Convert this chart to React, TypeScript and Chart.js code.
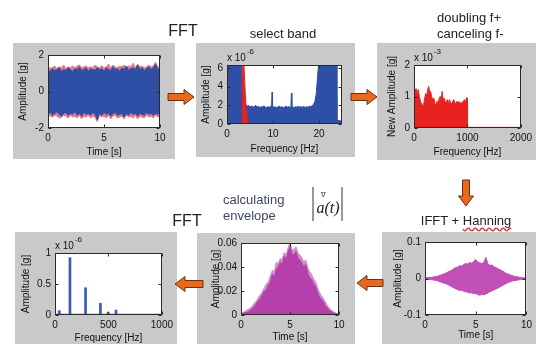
import React, { useEffect, useRef } from 'react';
import { Chart, registerables } from 'chart.js';

Chart.register(...registerables);

const FONT = '"Liberation Sans", Arial, sans-serif';
const PANEL_GRAY = '#c9c9c9';
const BLUE = '#2f4ea5';
const RED = '#e8231f';
const MAGENTA = '#b53fab';

// ---------------- data ----------------
const TIME = [0, 0.2, 0.4, 0.6, 0.8, 1, 1.2, 1.4, 1.6, 1.8, 2, 2.2, 2.4, 2.6, 2.8, 3, 3.2, 3.4, 3.6, 3.8, 4, 4.2, 4.4, 4.6, 4.8, 5, 5.2, 5.4, 5.6, 5.8, 6, 6.2, 6.4, 6.6, 6.8, 7, 7.2, 7.4, 7.6, 7.8, 8, 8.2, 8.4, 8.6, 8.8, 9, 9.2, 9.4, 9.6, 9.8, 10];

// Panel 1: raw signal envelope (g)
const SIG_UP = [1.15, 1.1, 1.25, 1.15, 1.2, 1.3, 1.1, 1.2, 1.15, 1.3, 1.2, 1.1, 1.25, 1.2, 1.35, 1.15, 1.2, 1.3, 1.1, 1.25, 1.2, 1.15, 1.3, 1.2, 1.25, 1.1, 1.3, 1.2, 1.15, 1.35, 1.2, 1.25, 1.1, 1.3, 1.2, 1.4, 1.15, 1.25, 1.3, 1.2, 1.45, 1.2, 1.3, 1.15, 1.25, 1.35, 1.2, 1.3, 1.5, 1.25, 1.2];
const SIG_LO = [-1.2, -1.15, -1.3, -1.2, -1.1, -1.25, -1.35, -1.2, -1.15, -1.3, -1.2, -1.25, -1.1, -1.3, -1.2, -1.35, -1.15, -1.25, -1.2, -1.3, -1.15, -1.25, -1.55, -1.2, -1.3, -1.15, -1.25, -1.2, -1.35, -1.2, -1.15, -1.3, -1.25, -1.2, -1.4, -1.2, -1.3, -1.15, -1.25, -1.2, -1.35, -1.2, -1.25, -1.3, -1.15, -1.25, -1.2, -1.3, -1.2, -1.25, -1.15];
const SIG_UP_RED = [1.25, 1.3, 1.3, 1.4, 1.25, 1.35, 1.3, 1.45, 1.25, 1.35, 1.3, 1.4, 1.3, 1.4, 1.45, 1.3, 1.35, 1.4, 1.3, 1.35, 1.3, 1.45, 1.35, 1.3, 1.4, 1.3, 1.35, 1.5, 1.3, 1.45, 1.35, 1.3, 1.4, 1.35, 1.45, 1.3, 1.4, 1.35, 1.55, 1.3, 1.5, 1.35, 1.4, 1.3, 1.35, 1.45, 1.35, 1.4, 1.6, 1.35, 1.3];
const SIG_LO_RED = [-1.3, -1.35, -1.4, -1.3, -1.35, -1.45, -1.4, -1.3, -1.35, -1.45, -1.3, -1.4, -1.35, -1.45, -1.3, -1.5, -1.35, -1.4, -1.3, -1.45, -1.35, -1.4, -1.65, -1.3, -1.4, -1.35, -1.45, -1.3, -1.5, -1.35, -1.3, -1.45, -1.4, -1.35, -1.5, -1.3, -1.4, -1.35, -1.45, -1.3, -1.5, -1.35, -1.4, -1.45, -1.3, -1.4, -1.35, -1.45, -1.3, -1.4, -1.3];

// Panel 2: spectrum [Hz, amplitude x1e-6]
const BAND_BLUE: [number, number][] = [
  [0, 6.5], [3.2, 6.5], [3.35, 3.5], [3.5, 2.2], [3.8, 2.0], [4.1, 2.1], [4.4, 1.9], [4.7, 2.0], [5.0, 1.8], [5.3, 1.95],
  [5.6, 1.8], [5.9, 1.85], [6.2, 2.0], [6.5, 1.8], [6.8, 1.9], [7.1, 1.75], [7.4, 1.85], [7.7, 1.8], [8.0, 1.95], [8.3, 1.8],
  [8.6, 1.75], [8.9, 1.85], [9.2, 1.8], [9.5, 1.9], [9.7, 1.85], [9.8, 3.4], [9.9, 1.9], [10.1, 1.8], [10.4, 1.85], [10.7, 1.75],
  [11.0, 1.8], [11.3, 1.9], [11.6, 1.8], [11.9, 1.85], [12.2, 1.75], [12.5, 1.8], [12.8, 1.9], [13.1, 1.8], [13.4, 1.85], [13.7, 1.8],
  [13.9, 1.9], [14.0, 3.3], [14.1, 1.85], [14.3, 1.8], [14.6, 1.75], [14.9, 1.85], [15.2, 1.8], [15.5, 1.9], [15.8, 1.8], [16.1, 1.85],
  [16.4, 1.8], [16.7, 1.9], [17.0, 1.75], [17.3, 1.85], [17.6, 1.8], [17.9, 1.9], [18.2, 1.85], [18.5, 1.95], [18.8, 2.1], [19.1, 2.4],
  [19.4, 3.2], [19.6, 4.5], [19.8, 5.8], [20.0, 6.5], [23.8, 6.5], [23.9, 0.4], [25, 0.3],
];
const BAND_RED: [number, number][] = [
  [3.3, 0], [3.3, 6.5], [3.65, 6.5], [3.85, 4.5], [4.0, 3.0], [4.2, 1.5], [4.4, 0.4], [4.55, 0],
];

// Panel 3: doubled positive band [Hz, amplitude x1e-3]
const NEW_AMP: [number, number][] = [
  [0, 1.05], [20, 1.2], [40, 1.25], [60, 1.1], [80, 1.22], [100, 1.0], [120, 0.85], [140, 0.78], [160, 0.7], [180, 0.75],
  [200, 0.95], [220, 1.1], [240, 1.0], [260, 1.25], [276, 1.32], [290, 1.15], [310, 1.16], [330, 1.0], [350, 0.9], [370, 0.95],
  [390, 0.78], [410, 0.73], [430, 0.85], [450, 0.8], [470, 0.92], [490, 1.0], [510, 0.9], [527, 1.16], [545, 0.88], [565, 0.95],
  [585, 0.8], [605, 0.84], [625, 0.9], [645, 0.78], [665, 0.9], [685, 0.8], [705, 0.76], [725, 0.85], [745, 0.9], [765, 0.8],
  [785, 0.76], [805, 0.85], [825, 0.8], [845, 0.84], [865, 0.76], [885, 0.82], [905, 0.78], [925, 0.86], [945, 0.9], [965, 0.82],
  [985, 0.97], [1000, 0.95], [1002, 0.02], [2000, 0.02],
];

// Panel 4: FFT of envelope [Hz], amplitude x1e-6
const PEAK_FREQ = [40, 140, 286, 425, 497, 571];
const PEAK_AMP = [0.07, 0.925, 0.44, 0.19, 0.04, 0.08];
const BASE_LEVEL = 0.01;

// Panel 5: envelope (g)
const ENV = [0.001, 0.001, 0.002, 0.002, 0.003, 0.004, 0.006, 0.007, 0.01, 0.012, 0.014, 0.017, 0.02, 0.021, 0.025, 0.027, 0.034, 0.031, 0.038, 0.04, 0.044, 0.041, 0.049, 0.046, 0.052, 0.057, 0.051, 0.05, 0.053, 0.047, 0.046, 0.043, 0.04, 0.042, 0.035, 0.031, 0.03, 0.026, 0.024, 0.019, 0.015, 0.013, 0.011, 0.008, 0.006, 0.004, 0.003, 0.002, 0.001, 0.001, 0];
const ENV_LIGHT = [0.002, 0.002, 0.003, 0.004, 0.005, 0.006, 0.008, 0.01, 0.012, 0.015, 0.017, 0.02, 0.023, 0.026, 0.028, 0.033, 0.037, 0.036, 0.044, 0.043, 0.047, 0.046, 0.052, 0.05, 0.056, 0.06, 0.055, 0.054, 0.057, 0.052, 0.05, 0.048, 0.044, 0.046, 0.04, 0.036, 0.034, 0.03, 0.028, 0.023, 0.019, 0.016, 0.014, 0.011, 0.008, 0.006, 0.004, 0.003, 0.002, 0.001, 0.001];

// Panel 6: IFFT + Hanning (g)
const IFFT_UP = [0.002, 0.002, 0.003, 0.003, 0.004, 0.005, 0.006, 0.008, 0.01, 0.012, 0.014, 0.017, 0.02, 0.022, 0.026, 0.03, 0.031, 0.035, 0.034, 0.038, 0.041, 0.04, 0.044, 0.042, 0.047, 0.052, 0.045, 0.043, 0.041, 0.044, 0.058, 0.04, 0.036, 0.037, 0.032, 0.03, 0.027, 0.024, 0.021, 0.018, 0.014, 0.012, 0.01, 0.008, 0.006, 0.005, 0.004, 0.003, 0.002, 0.002, 0.001];
const IFFT_LO = [-0.002, -0.002, -0.003, -0.003, -0.004, -0.005, -0.006, -0.008, -0.01, -0.012, -0.014, -0.016, -0.019, -0.022, -0.025, -0.028, -0.03, -0.033, -0.032, -0.035, -0.036, -0.038, -0.04, -0.039, -0.042, -0.041, -0.044, -0.046, -0.043, -0.045, -0.042, -0.04, -0.036, -0.034, -0.031, -0.029, -0.026, -0.023, -0.02, -0.017, -0.014, -0.011, -0.009, -0.007, -0.006, -0.005, -0.004, -0.003, -0.002, -0.002, -0.001];

// tick values
const T_TICKS = [0, 5, 10];
const P1_Y = [-2, 0, 2];
const P2_X = [0, 10, 20];
const P2_Y = [0, 2, 4, 6];
const P3_X = [0, 1000, 2000];
const P3_Y = [0, 1, 2];
const P4_X = [0, 500, 1000];
const P4_Y = [0, 0.5, 1];
const P5_Y = [0, 0.02, 0.04, 0.06];
const P6_Y = [-0.1, 0, 0.1];

// ---------------- helpers ----------------
type Box = { l: number; t: number; r: number; b: number };

const xy = (xs: number[], ys: number[]) => xs.map((x, i) => ({ x, y: ys[i] }));
const pairs = (p: [number, number][]) => p.map(([x, y]) => ({ x, y }));

const decoPlugin = {
  id: 'deco',
  beforeDraw(chart: any) {
    const { ctx, width, height, chartArea: a } = chart;
    ctx.save();
    ctx.fillStyle = PANEL_GRAY;
    ctx.fillRect(0, 0, width, height);
    ctx.fillStyle = '#ffffff';
    ctx.fillRect(a.left, a.top, a.right - a.left, a.bottom - a.top);
    ctx.restore();
  },
  afterDraw(chart: any, _args: any, opts: any) {
    const { ctx, chartArea: a, scales } = chart;
    ctx.save();
    ctx.strokeStyle = '#2a2a2a';
    ctx.lineWidth = 1;
    const L = Math.round(a.left) + 0.5;
    const T = Math.round(a.top) + 0.5;
    const R = Math.round(a.right) - 0.5;
    const B = Math.round(a.bottom) - 0.5;
    ctx.strokeRect(L, T, R - L, B - T);
    ctx.beginPath();
    for (const t of scales.x.ticks) {
      const px = Math.round(scales.x.getPixelForValue(t.value)) + 0.5;
      ctx.moveTo(px, B); ctx.lineTo(px, B - 3);
      ctx.moveTo(px, T); ctx.lineTo(px, T + 3);
    }
    for (const t of scales.y.ticks) {
      const py = Math.round(scales.y.getPixelForValue(t.value)) + 0.5;
      ctx.moveTo(L, py); ctx.lineTo(L + 3, py);
      ctx.moveTo(R, py); ctx.lineTo(R - 3, py);
    }
    ctx.stroke();
    if (opts && opts.expo) {
      ctx.fillStyle = '#111';
      ctx.textBaseline = 'alphabetic';
      ctx.textAlign = 'left';
      ctx.font = `10px ${FONT}`;
      ctx.fillText('x 10', a.left, a.top - 4);
      const w = ctx.measureText('x 10').width;
      ctx.font = `8px ${FONT}`;
      ctx.fillText(opts.expo, a.left + w + 1, a.top - 11);
    }
    ctx.restore();
  },
};

function axis(opts: {
  min: number; max: number; ticks: number[]; title: string; titlePad: number; size: number; isX: boolean;
}) {
  return {
    type: 'linear',
    min: opts.min,
    max: opts.max,
    offset: false,
    afterBuildTicks: (s: any) => {
      s.ticks = opts.ticks.map((v) => ({ value: v }));
    },
    afterFit: (s: any) => {
      if (opts.isX) s.height = opts.size;
      else s.width = opts.size;
    },
    grid: { display: false, drawTicks: false },
    border: { display: false },
    ticks: {
      padding: 4,
      color: '#111',
      autoSkip: false,
      maxRotation: 0,
      font: { family: FONT, size: 10 },
      callback: (v: any) => String(v),
    },
    title: {
      display: true,
      text: opts.title,
      color: '#111',
      font: { family: FONT, size: 10 },
      padding: { top: opts.titlePad, bottom: opts.titlePad },
    },
  };
}

type Spec = {
  box: Box;
  plot: Box;
  type?: string;
  datasets: any[];
  x: { min: number; max: number; ticks: number[]; title: string; titlePad: number };
  y: { min: number; max: number; ticks: number[]; title: string; titlePad: number };
  expo?: string;
};

function ChartPanel({ spec }: { spec: Spec }) {
  const ref = useRef<HTMLCanvasElement>(null);
  const { box, plot } = spec;
  const w = box.r - box.l;
  const h = box.b - box.t;
  useEffect(() => {
    const chart = new Chart(ref.current as HTMLCanvasElement, {
      type: (spec.type || 'line') as any,
      data: { datasets: spec.datasets },
      plugins: [decoPlugin as any],
      options: {
        responsive: false,
        animation: false,
        devicePixelRatio: 1,
        parsing: true,
        layout: { padding: { left: 0, top: plot.t - box.t, right: box.r - plot.r, bottom: 0 } },
        elements: { point: { radius: 0 }, line: { tension: 0 } },
        plugins: {
          legend: { display: false },
          tooltip: { enabled: false },
          deco: { expo: spec.expo },
        } as any,
        scales: {
          x: axis({ ...spec.x, size: box.b - plot.b, isX: true }) as any,
          y: axis({ ...spec.y, size: plot.l - box.l, isX: false }) as any,
        },
      },
    });
    return () => chart.destroy();
  }, []);
  return (
    <canvas
      ref={ref}
      width={w}
      height={h}
      style={{ position: 'absolute', left: box.l, top: box.t, width: w, height: h }}
    />
  );
}

const band = (up: any[], color: string, fill: any) => ({
  data: up,
  borderColor: color,
  backgroundColor: color,
  borderWidth: 1,
  fill,
  pointRadius: 0,
});

const SPECS: Spec[] = [
  {
    box: { l: 13, t: 43, r: 175, b: 159 },
    plot: { l: 48, t: 55, r: 160, b: 128 },
    datasets: [
      band(xy(TIME, SIG_UP), BLUE, '+1'),
      band(xy(TIME, SIG_LO), BLUE, false),
      band(xy(TIME, SIG_UP_RED), '#e07a8c', '+1'),
      band(xy(TIME, SIG_LO_RED), '#e07a8c', false),
    ],
    x: { min: 0, max: 10, ticks: T_TICKS, title: 'Time [s]', titlePad: 1 },
    y: { min: -2, max: 2, ticks: P1_Y, title: 'Amplitude [g]', titlePad: 4 },
  },
  {
    box: { l: 196, t: 43, r: 355, b: 157 },
    plot: { l: 227, t: 65, r: 342, b: 124 },
    datasets: [
      band(pairs(BAND_RED), RED, 'origin'),
      band(pairs(BAND_BLUE), BLUE, 'origin'),
    ],
    x: { min: 0, max: 25, ticks: P2_X, title: 'Frequency [Hz]', titlePad: 2 },
    y: { min: 0, max: 6.3, ticks: P2_Y, title: 'Amplitude [g]', titlePad: 4 },
    expo: '-6',
  },
  {
    box: { l: 377, t: 43, r: 536, b: 160 },
    plot: { l: 414, t: 65, r: 521, b: 128 },
    datasets: [band(pairs(NEW_AMP), RED, 'origin')],
    x: { min: 0, max: 2000, ticks: P3_X, title: 'Frequency [Hz]', titlePad: 2 },
    y: { min: 0, max: 2, ticks: P3_Y, title: 'New Amplitude [g]', titlePad: 9 },
    expo: '-3',
  },
  {
    box: { l: 15, t: 232, r: 177, b: 344 },
    plot: { l: 55, t: 253, r: 162, b: 315 },
    type: 'bar',
    datasets: [
      {
        type: 'bar',
        data: xy(PEAK_FREQ, PEAK_AMP),
        backgroundColor: '#3a5cb0',
        barThickness: 2,
      },
      {
        type: 'line',
        data: [{ x: 0, y: BASE_LEVEL }, { x: 1000, y: BASE_LEVEL }],
        borderColor: '#3a5cb0',
        borderWidth: 1.5,
        pointRadius: 0,
        fill: false,
      },
    ],
    x: { min: 0, max: 1000, ticks: P4_X, title: 'Frequency [Hz]', titlePad: 0 },
    y: { min: 0, max: 1, ticks: P4_Y, title: 'Amplitude [g]', titlePad: 5 },
    expo: '-6',
  },
  {
    box: { l: 197, t: 233, r: 355, b: 344 },
    plot: { l: 241, t: 242, r: 339, b: 315 },
    datasets: [
      band(xy(TIME, ENV), MAGENTA, 'origin'),
      band(xy(TIME, ENV_LIGHT), '#cf8ccb', 'origin'),
    ],
    x: { min: 0, max: 10, ticks: T_TICKS, title: 'Time [s]', titlePad: 1 },
    y: { min: 0, max: 0.06, ticks: P5_Y, title: 'Amplitude [g]', titlePad: 13 },
  },
  {
    box: { l: 382, t: 232, r: 536, b: 344 },
    plot: { l: 425, t: 242, r: 527, b: 315 },
    datasets: [
      band(xy(TIME, IFFT_UP), '#c050b5', '+1'),
      band(xy(TIME, IFFT_LO), '#c050b5', false),
    ],
    x: { min: 0, max: 10, ticks: T_TICKS, title: 'Time [s]', titlePad: 3 },
    y: { min: -0.1, max: 0.1, ticks: P6_Y, title: 'Amplitude [g]', titlePad: 10 },
  },
];

// ---------------- overlays ----------------
function Label(props: { x: number; y: number; text: React.ReactNode; size?: number; align?: 'left' | 'center'; color?: string; style?: React.CSSProperties }) {
  const { x, y, text, size = 13, align = 'center', color = '#222', style } = props;
  return (
    <div
      style={{
        position: 'absolute',
        left: x,
        top: y,
        transform: align === 'center' ? 'translate(-50%, -50%)' : 'translate(0, -50%)',
        fontFamily: FONT,
        fontSize: size,
        lineHeight: 1,
        color,
        whiteSpace: 'nowrap',
        ...style,
      }}
    >
      {text}
    </div>
  );
}

function arrowPoints(x0: number, y0: number, x1: number, y1: number, bh = 3.5, hh = 7.5, hl = 10) {
  const dx = x1 - x0, dy = y1 - y0;
  const len = Math.hypot(dx, dy);
  const ux = dx / len, uy = dy / len;
  const nx = -uy, ny = ux;
  const bx = x1 - ux * hl, by = y1 - uy * hl;
  const p = [
    [x0 + nx * bh, y0 + ny * bh],
    [bx + nx * bh, by + ny * bh],
    [bx + nx * hh, by + ny * hh],
    [x1, y1],
    [bx - nx * hh, by - ny * hh],
    [bx - nx * bh, by - ny * bh],
    [x0 - nx * bh, y0 - ny * bh],
  ];
  return p.map(([a, b]) => `${a.toFixed(1)},${b.toFixed(1)}`).join(' ');
}

const ARROWS: [number, number, number, number][] = [
  [168, 97, 194, 97],
  [351, 97, 377, 97],
  [466, 180, 466, 206],
  [383, 283, 357, 283],
  [203, 284, 175, 284],
];

export default function App() {
  return (
    <div
      style={{
        position: 'fixed',
        left: 0,
        top: 0,
        width: 536,
        height: 344,
        background: '#ffffff',
        overflow: 'hidden',
      }}
    >
      {SPECS.map((s, i) => (
        <ChartPanel key={i} spec={s} />
      ))}

      <svg width={536} height={344} style={{ position: 'absolute', left: 0, top: 0 }}>
        {ARROWS.map(([a, b, c, d], i) => (
          <polygon key={i} points={arrowPoints(a, b, c, d)} fill="#e8691e" stroke="#6b3210" strokeWidth={1} />
        ))}
        <line x1={313} y1={187} x2={313} y2={221} stroke="#333" strokeWidth={1} />
        <line x1={342} y1={187} x2={342} y2={221} stroke="#333" strokeWidth={1} />
      </svg>

      <Label x={183} y={31} text="FFT" size={16} />
      <Label x={283} y={33} text="select band" />
      <Label x={437} y={17} text="doubling f+" align="left" />
      <Label x={437} y={33} text="canceling f-" align="left" />
      <Label
        x={466}
        y={220}
        text={
          <span>
            IFFT +{' '}
            <span style={{ textDecoration: 'underline wavy #d03030', textUnderlineOffset: 2 }}>Hanning</span>
          </span>
        }
      />
      <Label x={187} y={221} text="FFT" size={16} />
      <Label x={223} y={199} text="calculating" align="left" color="#3d4860" />
      <Label x={223} y={215} text="envelope" align="left" color="#3d4860" />
      <Label
        x={328}
        y={208}
        text="a(t)"
        size={16}
        style={{ fontFamily: '"Liberation Serif", "DejaVu Serif", serif', fontStyle: 'italic' }}
        color="#222"
      />
      <Label x={323} y={194} text="∇" size={7} color="#333" />
    </div>
  );
}
